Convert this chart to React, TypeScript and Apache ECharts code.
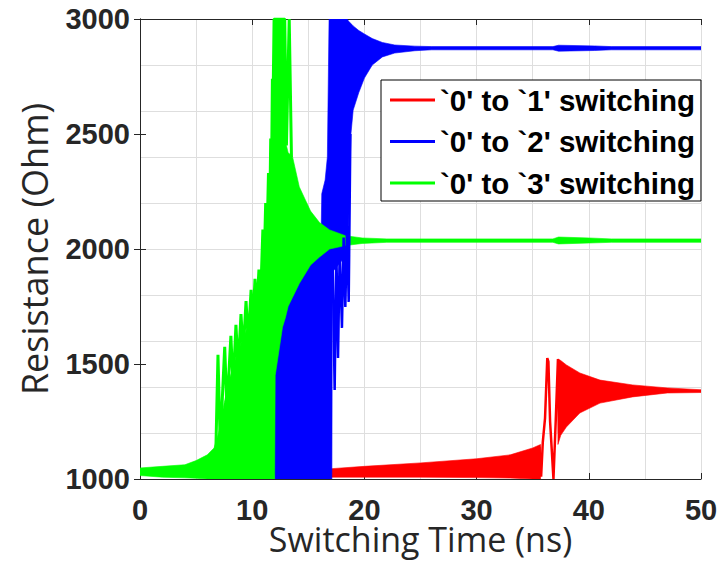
import React, { useEffect, useRef } from 'react';
import * as echarts from 'echarts';

// Axis ranges and tick spacing
const X_RANGE = [0, 50];
const X_LABEL_STEP = 10;
const X_GRID_STEP = 5;
const Y_RANGE = [1000, 3000];
const Y_LABEL_STEP = 500;
const Y_GRID_STEP = 200;

const SERIES_NAMES = ["`0' to `1' switching", "`0' to `2' switching", "`0' to `3' switching"];
const SERIES_COLORS = ['#ff0000', '#0000ff', '#00ff00'];

// ---- `0' to `1' switching (red) ----
// dense ringing drawn as an envelope band (time ns, low / high Ohm)
const RED_BAND1_T = [0, 11.95, 17.1, 20, 25, 30, 33, 35, 35.7];
const RED_BAND1_LO = [1022, 1022, 1008, 1008, 1008, 1006, 1004, 1000, 1000];
const RED_BAND1_HI = [1035, 1040, 1045, 1055, 1070, 1088, 1105, 1135, 1150];
const RED_BAND2_T = [37.25, 37.5, 38.0, 39.2, 41.0, 43.9, 47.0, 50];
const RED_BAND2_LO = [1150, 1190, 1226, 1287, 1330, 1357, 1374, 1376];
const RED_BAND2_HI = [1522, 1515, 1496, 1461, 1430, 1409, 1396, 1388];
// individual swings of the switching event
const RED_SPIKE_T = [35.6, 35.75, 35.9, 36.1, 36.3, 36.4, 36.55, 36.85, 37.05, 37.25, 37.35];
const RED_SPIKE_R = [1140, 1010, 1160, 1265, 1526, 1510, 1250, 1000, 1250, 1522, 1200];

// ---- `0' to `2' switching (blue) ----
const BLUE_BAND_T = [0, 6, 11.95, 12.0, 13, 14, 15, 15.8, 16.15, 16.2, 16.5, 16.7, 16.85, 17.1, 17.15, 18.0, 18.45, 18.6, 18.8, 19.0, 19.5, 20.0, 20.7, 21.6, 22.7, 24.5, 26, 36.8, 37.3, 40.5, 42, 50];
const BLUE_BAND_LO = [1022, 1022, 1022, 1000, 1000, 1000, 1000, 1000, 1000, 1000, 1000, 1000, 1000, 1000, 1900, 1950, 1990, 2100, 2500, 2604, 2680, 2743, 2800, 2835, 2852, 2862, 2866, 2866, 2860, 2863, 2866, 2866];
const BLUE_BAND_HI = [1035, 1040, 1045, 1700, 1850, 1950, 2020, 2070, 2090, 2240, 2300, 2400, 3000, 3000, 3000, 3000, 3000, 2990, 2980, 2970, 2950, 2935, 2915, 2898, 2887, 2882, 2880, 2880, 2886, 2883, 2880, 2880];
const BLUE_SPIKE_T = [17.15, 17.35, 17.5, 17.65, 17.8, 18.0, 18.15, 18.3, 18.45, 18.6, 18.75];
const BLUE_SPIKE_R = [2000, 1387, 2000, 1526, 2000, 1657, 2050, 1748, 2100, 1770, 2500];

// ---- `0' to `3' switching (green) ----
const GREEN_BAND_T = [0, 2, 4, 5, 6, 6.6, 7.0, 7.5, 8.0, 8.5, 9.0, 9.5, 10.0, 10.5, 11.0, 11.5, 11.8, 11.95, 12.0, 12.05, 12.7, 12.95, 13.05, 13.2, 13.6, 14.2, 15.2, 16.0, 16.9, 18.3, 19.8, 22, 36.8, 37.3, 40, 42, 50];
const GREEN_BAND_LO = [1015, 1008, 1005, 1003, 1000, 1000, 1000, 1000, 1000, 1000, 1000, 1000, 1000, 1000, 1000, 1000, 1000, 1000, 1000, 1450, 1660, 1700, 1720, 1750, 1790, 1850, 1930, 1965, 2000, 2015, 2024, 2029, 2029, 2022, 2026, 2029, 2029];
const GREEN_BAND_HI = [1048, 1055, 1062, 1080, 1105, 1135, 1200, 1330, 1440, 1520, 1590, 1650, 1720, 1790, 1950, 2200, 2600, 3000, 3000, 3000, 3000, 3000, 2450, 2420, 2400, 2270, 2165, 2115, 2083, 2058, 2048, 2044, 2044, 2052, 2048, 2044, 2044];
const GREEN_SPIKE_T = [6.75, 6.95, 7.15, 7.55, 7.75, 8.1, 8.3, 8.55, 8.75, 9.0, 9.2, 9.45, 9.65, 9.9, 10.05, 10.25, 10.4, 10.6, 10.75, 10.95, 11.05, 11.2, 11.3, 11.45, 11.55, 11.65, 11.72, 11.8, 11.85, 11.95, 12.9, 13.05, 13.3, 13.5];
const GREEN_SPIKE_R = [1100, 1540, 1150, 1575, 1300, 1622, 1400, 1670, 1480, 1717, 1550, 1774, 1600, 1822, 1660, 1870, 1720, 1910, 1780, 2085, 1900, 2200, 2000, 2330, 2100, 2480, 2300, 2740, 2600, 3000, 3000, 2450, 3000, 2400];

const AXIS_COLOR = '#262626';
const GRID_COLOR = '#dedede';

function bandSeries(name: string, color: string, t: number[], lo: number[], hi: number[]) {
  return {
    type: 'custom',
    name,
    silent: true,
    clip: true,
    data: [[t[0], lo[0]]],
    encode: { x: 0, y: 1 },
    renderItem: (_params: any, api: any) => {
      const pts: number[][] = [];
      for (let i = 0; i < t.length; i++) pts.push(api.coord([t[i], hi[i]]));
      for (let i = t.length - 1; i >= 0; i--) pts.push(api.coord([t[i], lo[i]]));
      return {
        type: 'polygon',
        shape: { points: pts },
        style: { fill: color, stroke: color, lineWidth: 0.6 },
      };
    },
  };
}

function spikeSeries(name: string, color: string, t: number[], r: number[], width: number) {
  return {
    type: 'line',
    name,
    data: t.map((v, i) => [v, r[i]]),
    showSymbol: false,
    symbol: 'none',
    silent: true,
    lineStyle: { color, width },
    itemStyle: { color },
  };
}

const tickFont = {
  fontSize: 29,
  fontWeight: 'bold',
  fontFamily: '"Liberation Sans", Arial, sans-serif',
  color: AXIS_COLOR,
};
const titleFont = {
  fontSize: 36,
  fontFamily: '"Open Sans", sans-serif',
  color: AXIS_COLOR,
};

export default function App() {
  const ref = useRef<HTMLDivElement>(null);

  useEffect(() => {
    if (!ref.current) return;
    const chart = echarts.init(ref.current, undefined, { renderer: 'svg' });
    const [red, blue, green] = SERIES_COLORS;

    chart.setOption({
      animation: false,
      backgroundColor: '#ffffff',
      grid: {
        left: 140,
        top: 19,
        width: 561,
        height: 460,
        containLabel: false,
        outerBoundsMode: 'none',
      },
      legend: {
        data: SERIES_NAMES,
        orient: 'vertical',
        left: 381,
        top: 80,
        backgroundColor: '#ffffff',
        borderColor: '#000000',
        borderWidth: 1,
        padding: [5, 6, 3, 9],
        itemGap: 11.5,
        itemWidth: 45,
        itemHeight: 3,
        icon: 'rect',
        selectedMode: false,
        textStyle: {
          fontSize: 29.5,
          fontWeight: 'bold',
          fontFamily: '"Liberation Sans", Arial, sans-serif',
          color: '#000000',
        },
      },
      xAxis: [
        {
          type: 'value',
          min: X_RANGE[0],
          max: X_RANGE[1],
          interval: X_LABEL_STEP,
          position: 'bottom',
          axisLine: { show: true, lineStyle: { color: AXIS_COLOR, width: 1 } },
          axisTick: { show: true, inside: true, length: 6, lineStyle: { color: AXIS_COLOR } },
          axisLabel: { ...tickFont, margin: 16, formatter: (v: number) => String(v) },
          splitLine: { show: false },
          name: 'Switching Time (ns)',
          nameLocation: 'middle',
          nameGap: 43,
          nameMoveOverlap: false,
          nameTextStyle: { ...titleFont, fontSize: 34 },
        },
        {
          type: 'value',
          min: X_RANGE[0],
          max: X_RANGE[1],
          interval: X_GRID_STEP,
          position: 'top',
          axisLine: { show: false },
          axisTick: { show: false },
          axisLabel: { show: false },
          splitLine: { show: true, lineStyle: { color: GRID_COLOR, width: 1 } },
        },
        {
          type: 'value',
          min: X_RANGE[0],
          max: X_RANGE[1],
          interval: X_LABEL_STEP,
          position: 'top',
          axisLine: { show: true, lineStyle: { color: AXIS_COLOR, width: 1 } },
          axisTick: { show: true, inside: true, length: 6, lineStyle: { color: AXIS_COLOR } },
          axisLabel: { show: false },
          splitLine: { show: false },
        },
      ],
      yAxis: [
        {
          type: 'value',
          min: Y_RANGE[0],
          max: Y_RANGE[1],
          interval: Y_LABEL_STEP,
          position: 'left',
          axisLine: { show: true, lineStyle: { color: AXIS_COLOR, width: 1 } },
          axisTick: { show: true, inside: true, length: 6, lineStyle: { color: AXIS_COLOR } },
          axisLabel: { ...tickFont, margin: 10, formatter: (v: number) => String(v) },
          splitLine: { show: false },
          name: 'Resistance (Ohm)',
          nameLocation: 'middle',
          nameGap: 88,
          nameMoveOverlap: false,
          nameTextStyle: titleFont,
        },
        {
          type: 'value',
          min: Y_RANGE[0],
          max: Y_RANGE[1],
          interval: Y_GRID_STEP,
          position: 'right',
          axisLine: { show: false },
          axisTick: { show: false },
          axisLabel: { show: false },
          splitLine: { show: true, lineStyle: { color: GRID_COLOR, width: 1 } },
        },
        {
          type: 'value',
          min: Y_RANGE[0],
          max: Y_RANGE[1],
          interval: Y_LABEL_STEP,
          position: 'right',
          axisLine: { show: true, lineStyle: { color: AXIS_COLOR, width: 1 } },
          axisTick: { show: true, inside: true, length: 6, lineStyle: { color: AXIS_COLOR } },
          axisLabel: { show: false },
          splitLine: { show: false },
        },
      ],
      series: [
        bandSeries('red-band-1', red, RED_BAND1_T, RED_BAND1_LO, RED_BAND1_HI),
        bandSeries('red-band-2', red, RED_BAND2_T, RED_BAND2_LO, RED_BAND2_HI),
        spikeSeries(SERIES_NAMES[0], red, RED_SPIKE_T, RED_SPIKE_R, 2.5),
        bandSeries('blue-band', blue, BLUE_BAND_T, BLUE_BAND_LO, BLUE_BAND_HI),
        spikeSeries(SERIES_NAMES[1], blue, BLUE_SPIKE_T, BLUE_SPIKE_R, 2.5),
        bandSeries('green-band', green, GREEN_BAND_T, GREEN_BAND_LO, GREEN_BAND_HI),
        spikeSeries(SERIES_NAMES[2], green, GREEN_SPIKE_T, GREEN_SPIKE_R, 3),
      ],
    });

    return () => chart.dispose();
  }, []);

  return (
    <div
      ref={ref}
      style={{ position: 'fixed', left: 0, top: 0, width: 727, height: 561, background: '#fff' }}
    />
  );
}
